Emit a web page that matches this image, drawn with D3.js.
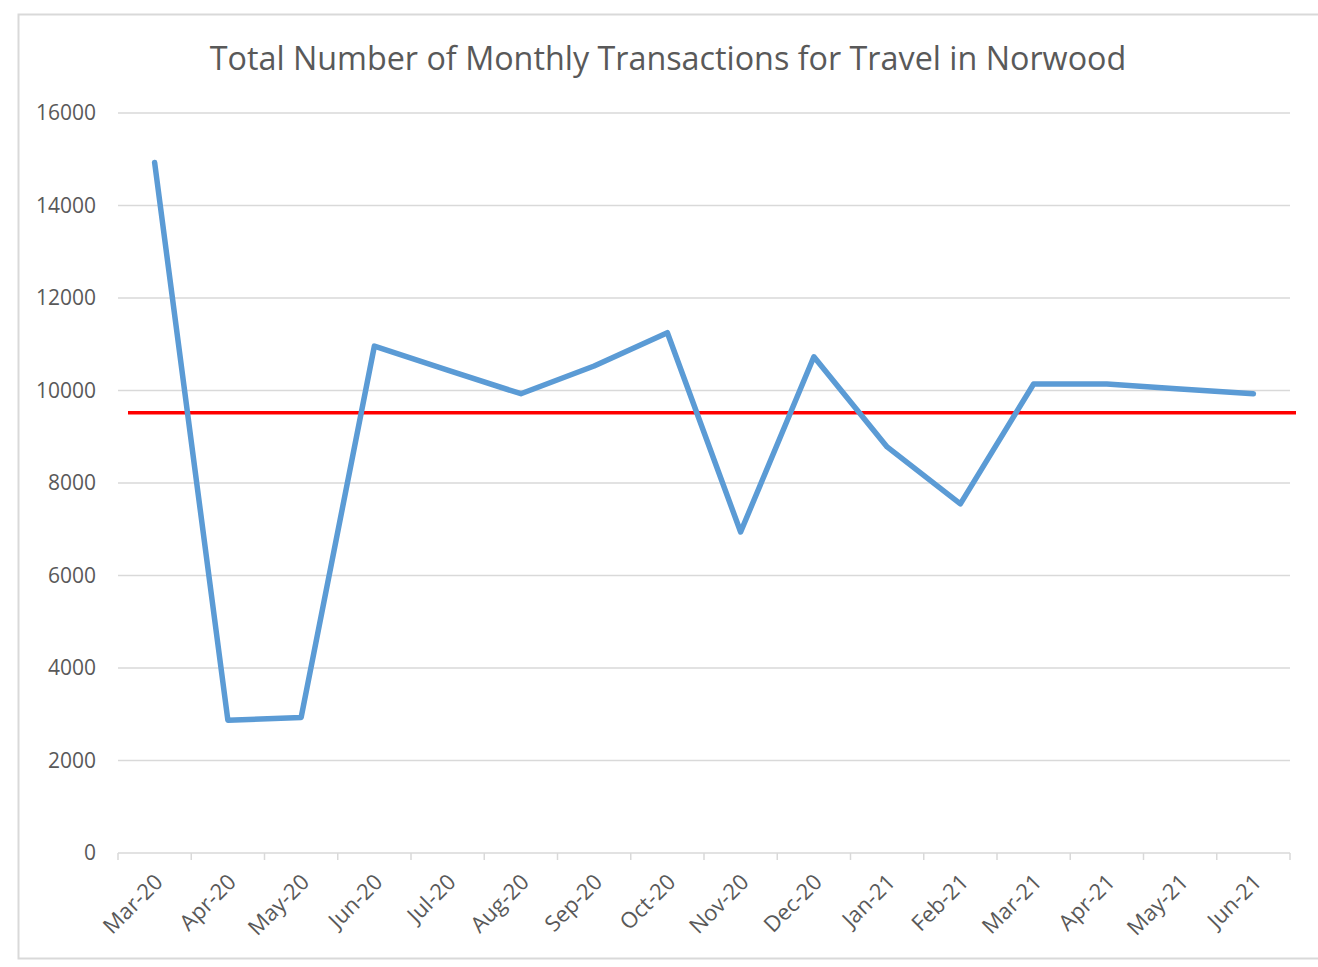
<!DOCTYPE html>
<html>
<head>
<meta charset="utf-8">
<script src="https://cdn.jsdelivr.net/npm/d3@7"></script>
<style>
  body { margin: 0; background: #fff; }
  text { font-family: "Open Sans", sans-serif; fill: #595959; }
</style>
</head>
<body>
<svg id="chart" width="1318" height="967"></svg>
<script>
// data
const months = ["Mar-20", "Apr-20", "May-20", "Jun-20", "Jul-20", "Aug-20", "Sep-20", "Oct-20",
  "Nov-20", "Dec-20", "Jan-21", "Feb-21", "Mar-21", "Apr-21", "May-21", "Jun-21"];
const transactions = [14930, 2870, 2930, 10960, 10440, 9930, 10530, 11250,
  6940, 10730, 8780, 7550, 10140, 10140, 10030, 9930];
const refValue = 9520;
const yTicks = [0, 2000, 4000, 6000, 8000, 10000, 12000, 14000, 16000];
const title = "Total Number of Monthly Transactions for Travel in Norwood";

const svg = d3.select("#chart");
const margin = {left: 118, right: 28, top: 113, bottom: 114};
const width = 1318;
const height = 967;

// outer chart border
svg.append("rect")
  .attr("x", 18.5).attr("y", 14.5)
  .attr("width", 1310).attr("height", 944)
  .attr("fill", "#fff")
  .attr("stroke", "#d9d9d9")
  .attr("stroke-width", 2);

let xScale = d3.scaleBand()
  .domain(months)
  .range([margin.left, width - margin.right]);

let yScale = d3.scaleLinear()
  .domain([0, 16000])
  .range([height - margin.bottom, margin.top]);

// gridlines
svg.append("g")
  .selectAll("line")
  .data(yTicks.filter(d => d > 0))
  .enter().append("line")
  .attr("x1", margin.left).attr("x2", width - margin.right)
  .attr("y1", d => yScale(d)).attr("y2", d => yScale(d))
  .attr("stroke", "#d9d9d9")
  .attr("stroke-width", 1.5);

// y axis labels
let yAxis = d3.axisLeft(yScale).tickValues(yTicks).tickFormat(d3.format("d")).tickSize(0).tickPadding(22);
svg.append("g")
  .attr("transform", `translate(${margin.left}, 0)`)
  .call(yAxis)
  .call(g => g.select(".domain").remove())
  .selectAll("text")
  .attr("font-size", 21)
  .style("font-family", "'Open Sans', sans-serif")
  .attr("fill", "#595959");

// x axis: baseline and ticks on band edges
let xg = svg.append("g");
xg.append("line")
  .attr("x1", margin.left).attr("x2", width - margin.right)
  .attr("y1", yScale(0)).attr("y2", yScale(0))
  .attr("stroke", "#d9d9d9").attr("stroke-width", 1.5);
let edges = months.map(m => xScale(m)).concat([xScale.range()[1]]);
xg.selectAll("line.tick")
  .data(edges)
  .enter().append("line")
  .attr("class", "tick")
  .attr("x1", d => d).attr("x2", d => d)
  .attr("y1", yScale(0)).attr("y2", yScale(0) + 7)
  .attr("stroke", "#d9d9d9").attr("stroke-width", 1.5);

xg.selectAll("text")
  .data(months)
  .enter().append("text")
  .attr("transform", d => `translate(${xScale(d) + xScale.bandwidth() / 2 + 4}, ${yScale(0) + 25}) rotate(-45)`)
  .attr("text-anchor", "end")
  .attr("dy", "0.35em")
  .attr("font-size", 22)
  .text(d => d);

// the red reference line
svg.append("line")
  .attr("x1", margin.left + 10).attr("x2", width - margin.right + 6)
  .attr("y1", yScale(refValue)).attr("y2", yScale(refValue))
  .attr("stroke", "#ff0000")
  .attr("stroke-width", 3.5);

// the series line
let line = d3.line()
  .x((d, i) => xScale(months[i]) + xScale.bandwidth() / 2)
  .y(d => yScale(d));

svg.append("path")
  .datum(transactions)
  .attr("d", line)
  .attr("fill", "none")
  .attr("stroke", "#5b9bd5")
  .attr("stroke-width", 5.5)
  .attr("stroke-linejoin", "round")
  .attr("stroke-linecap", "round");

// title
svg.append("text")
  .attr("x", 668)
  .attr("y", 70)
  .attr("text-anchor", "middle")
  .attr("font-size", 32.3)
  .text(title);
</script>
</body>
</html>
